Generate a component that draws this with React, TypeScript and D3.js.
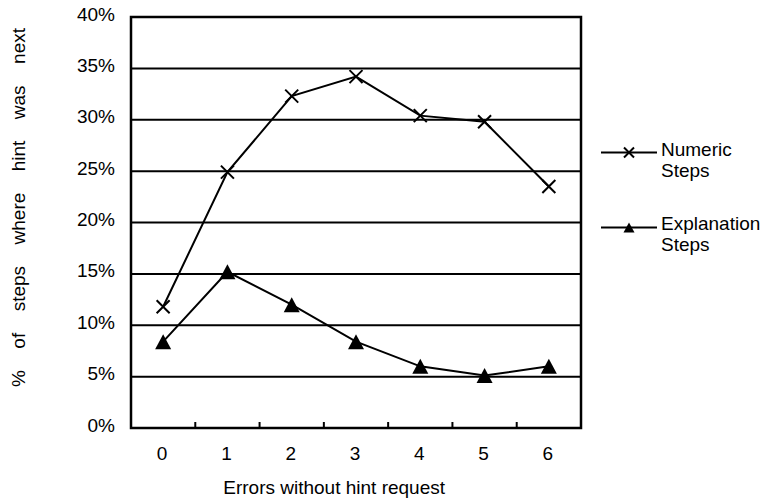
import React, { useLayoutEffect, useRef, useState } from "react";
import * as d3 from "d3";

const categories = ["0", "1", "2", "3", "4", "5", "6"];
const numericSteps = [11.8, 24.9, 32.3, 34.2, 30.4, 29.8, 23.5];
const explanationSteps = [8.4, 15.2, 12.0, 8.4, 6.0, 5.1, 6.0];
const yTicks = [0, 5, 10, 15, 20, 25, 30, 35, 40];
const yLabelWords = ["%", "of", "steps", "where", "hint", "was", "next"];

const W = 765;
const H = 500;
const left = 131;
const right = 581;
const top = 17;
const bottom = 428;
const FONT = "'Liberation Sans', Arial, sans-serif";
const FS = 19;

export default function App() {
  const x = d3.scaleBand<string>().domain(categories).range([left, right]).padding(0);
  const y = d3.scaleLinear().domain([0, 40]).range([bottom, top]);
  const cx = (i: number) => (x(categories[i]) as number) + x.bandwidth() / 2;

  const line = d3
    .line<number>()
    .x((_, i) => cx(i))
    .y((d) => y(d));

  const xMark = (px: number, py: number, s: number, key: string) => (
    <path
      key={key}
      d={`M${px - s},${py - s}L${px + s},${py + s}M${px - s},${py + s}L${px + s},${py - s}`}
      stroke="#000"
      strokeWidth={2}
      fill="none"
    />
  );
  const tri = (px: number, py: number, w: number, h: number, key: string) => (
    <path
      key={key}
      d={`M${px},${py - h / 2}L${px + w / 2},${py + h / 2}L${px - w / 2},${py + h / 2}Z`}
      fill="#000"
    />
  );

  const yTitleTop = 28;
  const yTitleBottom = 387;
  const wordRefs = useRef<(SVGTextElement | null)[]>([]);
  const [wordPos, setWordPos] = useState<number[] | null>(null);
  useLayoutEffect(() => {
    const widths = wordRefs.current.map((el) => (el ? el.getComputedTextLength() : 0));
    const total = widths.reduce((a, b) => a + b, 0);
    const gap = (yTitleBottom - yTitleTop - total) / (yLabelWords.length - 1);
    const pos: number[] = [];
    let cur = yTitleBottom;
    widths.forEach((w) => {
      pos.push(cur);
      cur -= w + gap;
    });
    setWordPos(pos);
  }, []);

  return (
    <svg width={W} height={H} style={{ position: "absolute", left: 0, top: 0 }} fontFamily={FONT}>
      <rect width={W} height={H} fill="#fff" />
      {yTicks.map((t) => (
        <g key={t}>
          {t > 0 && t < 40 && (
            <line x1={left} x2={right} y1={y(t)} y2={y(t)} stroke="#000" strokeWidth={2} />
          )}
          <text x={115} y={y(t) + 3.5} textAnchor="end" fontSize={FS}>
            {t}%
          </text>
        </g>
      ))}
      {categories.slice(1).map((c) => (
        <line
          key={c}
          x1={x(c) as number}
          x2={x(c) as number}
          y1={bottom}
          y2={bottom - 6}
          stroke="#000"
          strokeWidth={2}
        />
      ))}
      <rect x={left} y={top} width={right - left} height={bottom - top} fill="none" stroke="#000" strokeWidth={2.5} />
      {categories.map((c, i) => (
        <text key={c} x={cx(i) - 1} y={460} textAnchor="middle" fontSize={FS}>
          {c}
        </text>
      ))}
      <text x={445} y={494} textAnchor="end" fontSize={FS}>
        Errors without hint request
      </text>
      {yLabelWords.map((w, i) => {
        const p = wordPos ? wordPos[i] : yTitleBottom - i * 50;
        return (
          <text
            key={w}
            ref={(el) => {
              wordRefs.current[i] = el;
            }}
            transform={`translate(25,${p}) rotate(-90)`}
            textAnchor="start"
            fontSize={FS}
          >
            {w}
          </text>
        );
      })}
      <path d={line(numericSteps) || ""} fill="none" stroke="#000" strokeWidth={2} />
      <path d={line(explanationSteps) || ""} fill="none" stroke="#000" strokeWidth={2} />
      {numericSteps.map((v, i) => xMark(cx(i), y(v), 6.5, "n" + i))}
      {explanationSteps.map((v, i) => tri(cx(i), y(v), 16, 15, "e" + i))}

      <line x1={601} x2={657} y1={152.5} y2={152.5} stroke="#000" strokeWidth={2} />
      {xMark(629, 152.5, 5, "ln")}
      <text x={661} y={156} fontSize={FS}>Numeric</text>
      <text x={661} y={177} fontSize={FS}>Steps</text>
      <line x1={601} x2={657} y1={227.5} y2={227.5} stroke="#000" strokeWidth={2} />
      {tri(629, 227.5, 11, 10, "le")}
      <text x={661} y={230} fontSize={FS}>Explanation</text>
      <text x={661} y={251} fontSize={FS}>Steps</text>
    </svg>
  );
}
